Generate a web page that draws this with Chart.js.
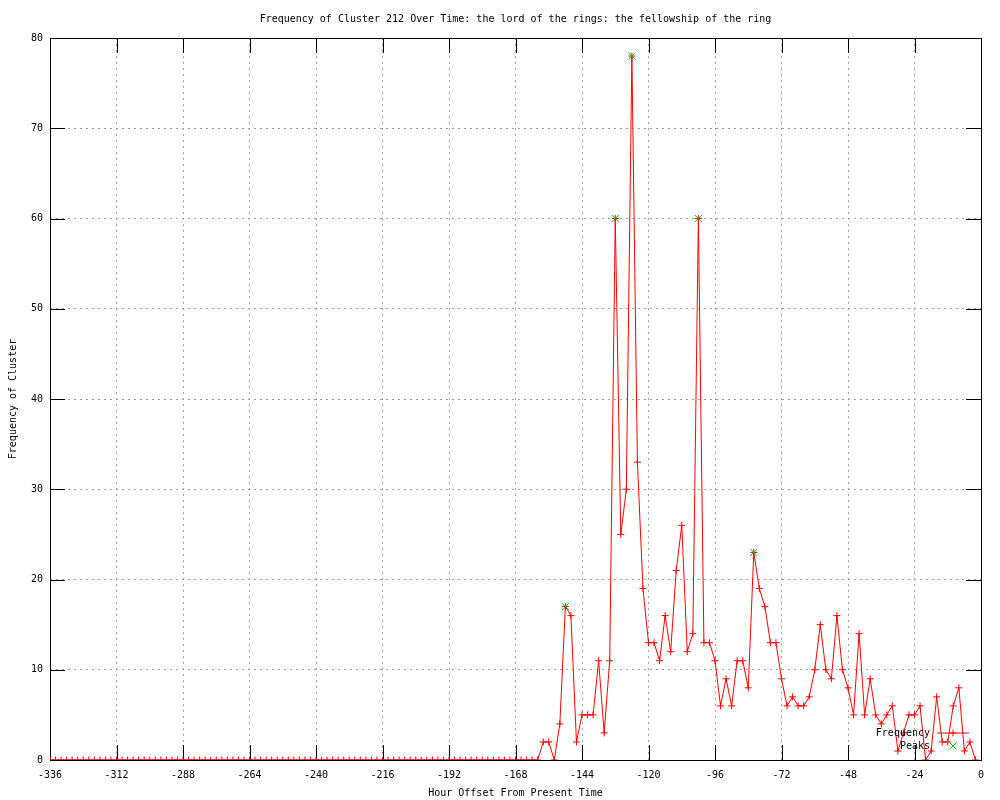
<!DOCTYPE html>
<html>
<head>
<meta charset="utf-8">
<title>Frequency of Cluster 212 Over Time</title>
<script src="https://cdn.jsdelivr.net/npm/chart.js@4.4.0/dist/chart.umd.min.js"></script>
<style>
  html, body { margin: 0; padding: 0; background: #fff; }
  #wrap { width: 1000px; height: 800px; }
</style>
</head>
<body>
<div id="wrap"><canvas id="chart" width="1000" height="800"></canvas></div>
<script>
// hour offset of each 2-hour bin
const hours = [
  -336, -334, -332, -330, -328, -326, -324, -322, -320, -318, -316, -314,
  -312, -310, -308, -306, -304, -302, -300, -298, -296, -294, -292, -290,
  -288, -286, -284, -282, -280, -278, -276, -274, -272, -270, -268, -266,
  -264, -262, -260, -258, -256, -254, -252, -250, -248, -246, -244, -242,
  -240, -238, -236, -234, -232, -230, -228, -226, -224, -222, -220, -218,
  -216, -214, -212, -210, -208, -206, -204, -202, -200, -198, -196, -194,
  -192, -190, -188, -186, -184, -182, -180, -178, -176, -174, -172, -170,
  -168, -166, -164, -162, -160, -158, -156, -154, -152, -150, -148, -146,
  -144, -142, -140, -138, -136, -134, -132, -130, -128, -126, -124, -122,
  -120, -118, -116, -114, -112, -110, -108, -106, -104, -102, -100, -98,
  -96, -94, -92, -90, -88, -86, -84, -82, -80, -78, -76, -74,
  -72, -70, -68, -66, -64, -62, -60, -58, -56, -54, -52, -50,
  -48, -46, -44, -42, -40, -38, -36, -34, -32, -30, -28, -26,
  -24, -22, -20, -18, -16, -14, -12, -10, -8, -6, -4, -2
];
const frequency = [
  0, 0, 0, 0, 0, 0, 0, 0, 0, 0, 0, 0,
  0, 0, 0, 0, 0, 0, 0, 0, 0, 0, 0, 0,
  0, 0, 0, 0, 0, 0, 0, 0, 0, 0, 0, 0,
  0, 0, 0, 0, 0, 0, 0, 0, 0, 0, 0, 0,
  0, 0, 0, 0, 0, 0, 0, 0, 0, 0, 0, 0,
  0, 0, 0, 0, 0, 0, 0, 0, 0, 0, 0, 0,
  0, 0, 0, 0, 0, 0, 0, 0, 0, 0, 0, 0,
  0, 0, 0, 0, 0, 2, 2, 0, 4, 17, 16, 2,
  5, 5, 5, 11, 3, 11, 60, 25, 30, 78, 33, 19,
  13, 13, 11, 16, 12, 21, 26, 12, 14, 60, 13, 13,
  11, 6, 9, 6, 11, 11, 8, 23, 19, 17, 13, 13,
  9, 6, 7, 6, 6, 7, 10, 15, 10, 9, 16, 10,
  8, 5, 14, 5, 9, 5, 4, 5, 6, 1, 3, 5,
  5, 6, 0, 1, 7, 2, 2, 6, 8, 1, 2, 0
];
const peakHours = [-150, -132, -126, -102, -82];
const peakValues = [17, 60, 78, 60, 23];

const xTicks = [-336, -312, -288, -264, -240, -216, -192, -168, -144, -120, -96, -72, -48, -24, 0];
const yTicks = [0, 10, 20, 30, 40, 50, 60, 70, 80];

const RED = '#ff0000';
const GREEN = '#00c000';
const GRID = '#a0a0a0';

Chart.defaults.font.family = "'DejaVu Sans Mono', 'Liberation Mono', monospace";
Chart.defaults.font.size = 10;
Chart.defaults.color = '#000';

// frame, inward ticks and the small legend in the lower right corner
const gnuplotFrame = {
  id: 'gnuplotFrame',
  beforeDatasetsDraw(chart) {
    const { ctx, chartArea: a, scales } = chart;
    const len = 15;
    ctx.save();
    ctx.strokeStyle = '#000';
    ctx.lineWidth = 1;
    ctx.beginPath();
    xTicks.forEach(v => {
      const px = Math.round(scales.x.getPixelForValue(v)) + 0.5;
      ctx.moveTo(px, a.bottom); ctx.lineTo(px, a.bottom - len);
      ctx.moveTo(px, a.top); ctx.lineTo(px, a.top + len);
    });
    yTicks.forEach(v => {
      const py = Math.round(scales.y.getPixelForValue(v)) + 0.5;
      ctx.moveTo(a.left, py); ctx.lineTo(a.left + len, py);
      ctx.moveTo(a.right, py); ctx.lineTo(a.right - len, py);
    });
    ctx.stroke();
    ctx.strokeRect(Math.round(a.left) + 0.5, Math.round(a.top) + 0.5,
      Math.round(a.right - a.left), Math.round(a.bottom - a.top));
    ctx.restore();
  },
  afterDatasetsDraw(chart) {
    const { ctx, chartArea: a } = chart;
    const ds = chart.data.datasets;
    const textX = a.right - 51;
    const x0 = a.right - 44, x1 = a.right - 12, xm = (x0 + x1) / 2;
    const rows = [a.bottom - 27, a.bottom - 14];
    ctx.save();
    ctx.font = "10px 'DejaVu Sans Mono', 'Liberation Mono', monospace";
    ctx.fillStyle = '#000';
    ctx.textAlign = 'right';
    ctx.textBaseline = 'middle';
    ds.forEach((d, i) => {
      const y = rows[i];
      ctx.fillText(d.label, textX, y);
      ctx.strokeStyle = d.borderColor;
      ctx.lineWidth = 1;
      if (d.showLine !== false) {
        ctx.beginPath(); ctx.moveTo(x0, y); ctx.lineTo(x1, y); ctx.stroke();
      }
      Chart.helpers.drawPoint(ctx, {
        pointStyle: d.pointStyle, radius: d.pointRadius, borderWidth: 1, rotation: 0
      }, xm, y);
    });
    ctx.restore();
  }
};

new Chart(document.getElementById('chart'), {
  type: 'line',
  data: {
    datasets: [
      {
        label: 'Frequency',
        data: hours.map((h, i) => ({ x: h, y: frequency[i] })),
        borderColor: RED,
        backgroundColor: RED,
        borderWidth: 1,
        pointStyle: 'cross',
        pointRadius: 3.5,
        pointBorderWidth: 1,
        tension: 0,
        order: 2
      },
      {
        label: 'Peaks',
        data: peakHours.map((h, i) => ({ x: h, y: peakValues[i] })),
        borderColor: GREEN,
        backgroundColor: GREEN,
        showLine: false,
        pointStyle: 'crossRot',
        pointRadius: 5,
        pointBorderWidth: 1,
        order: 1
      }
    ]
  },
  options: {
    responsive: false,
    animation: false,
    layout: { padding: { left: 0, right: 19, top: 0, bottom: 0 } },
    plugins: {
      legend: { display: false },
      tooltip: { enabled: false },
      title: {
        display: true,
        fullSize: false,
        text: 'Frequency of Cluster 212 Over Time: the lord of the rings: the fellowship of the ring',
        color: '#000',
        font: { size: 10, weight: 'normal' },
        padding: { top: 13, bottom: 13 }
      }
    },
    scales: {
      x: {
        type: 'linear',
        min: -336, max: 0,
        afterBuildTicks: s => { s.ticks = xTicks.map(v => ({ value: v })); },
        afterFit: s => { s.height = 40; },
        ticks: { autoSkip: false, maxRotation: 0, padding: 9, callback: v => String(v) },
        grid: { color: GRID, lineWidth: 1, drawTicks: false },
        border: { display: false, dash: [2, 4] },
        title: { display: true, text: 'Hour Offset From Present Time', padding: { top: 0, bottom: 1 } }
      },
      y: {
        min: 0, max: 80,
        afterBuildTicks: s => { s.ticks = yTicks.map(v => ({ value: v })); },
        afterFit: s => { s.width = 50; },
        ticks: { padding: 7, callback: v => String(v) },
        grid: { color: GRID, lineWidth: 1, drawTicks: false },
        border: { display: false, dash: [2, 4] },
        title: { display: true, text: 'Frequency of Cluster', padding: { top: 7, bottom: 0 } }
      }
    }
  },
  plugins: [gnuplotFrame]
});
</script>
</body>
</html>
